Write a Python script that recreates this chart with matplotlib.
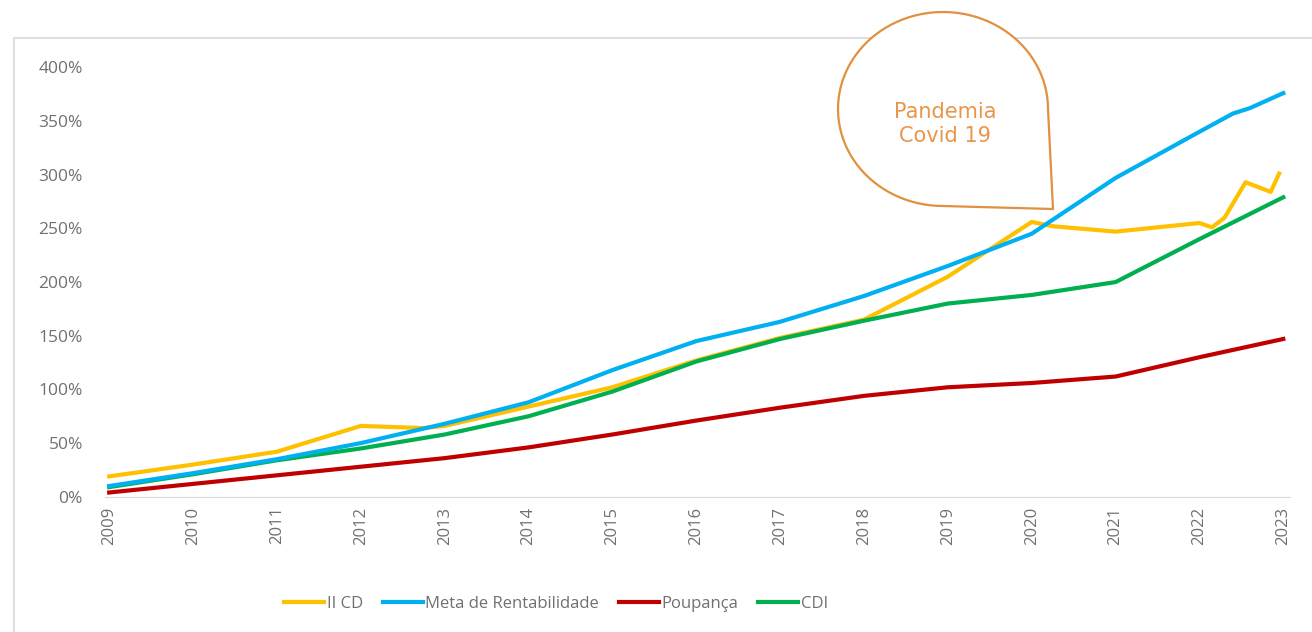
import numpy as np
import matplotlib
matplotlib.use("Agg")
import matplotlib.pyplot as plt
from matplotlib.path import Path
from matplotlib.patches import PathPatch, Rectangle
from matplotlib.ticker import FuncFormatter

plt.rcParams['font.family'] = ['Open Sans', 'DejaVu Sans']

# Data (cumulative return, %)
years = list(range(2009, 2024))

iicd_x = [2009, 2010, 2011, 2012, 2012.75, 2013, 2014, 2015, 2016, 2017, 2018, 2019,
          2020, 2020.25, 2021, 2022, 2022.15, 2022.3, 2022.55, 2022.85, 2022.95]
iicd_y = [19, 30, 42, 66, 64, 66, 84, 102, 127, 148, 165, 205,
          256, 252, 247, 255, 251, 260, 293, 284, 301]

meta_x = years[:-1] + [2022.4, 2022.6, 2023]
meta_y = [10, 22, 35, 50, 68, 88, 118, 145, 163, 187, 215, 245, 297, 340, 357, 362, 376]

poup_y = [4, 12, 20, 28, 36, 46, 58, 71, 83, 94, 102, 106, 112, 130, 147]
cdi_y = [9, 21, 34, 45, 58, 75, 98, 126, 147, 164, 180, 188, 200, 240, 279]

labels = ['II CD', 'Meta de Rentabilidade', 'Poupança', 'CDI']
colors = ['#FFC000', '#00B0F0', '#C00000', '#00B050']

W, H = 1312, 632
fig = plt.figure(figsize=(W / 100, H / 100), dpi=100)

# outer frame
fig.patches.append(Rectangle((14 / W, -0.1), 1.2, 1 - 38 / H + 0.1, transform=fig.transFigure,
                             fill=False, edgecolor='#D9D9D9', linewidth=1.2))

ax = fig.add_axes([105 / W, 1 - 500 / H, (1290 - 105) / W, (500 - 62) / H])
ax.plot(iicd_x, iicd_y, color=colors[0], lw=3, label=labels[0], zorder=3)
ax.plot(meta_x, meta_y, color=colors[1], lw=3, label=labels[1], zorder=4)
ax.plot(years, poup_y, color=colors[2], lw=3, label=labels[2], zorder=3)
ax.plot(years, cdi_y, color=colors[3], lw=3, label=labels[3], zorder=3)

for s in ['top', 'right', 'left']:
    ax.spines[s].set_visible(False)
ax.spines['bottom'].set_color('#D9D9D9')
ax.spines['bottom'].set_position(('data', 0))

ax.set_xlim(2008.95, 2023.08)
ax.set_ylim(-3, 405)
ax.set_xticks(years)
ax.set_xticklabels([str(y) for y in years])
ax.set_yticks(range(0, 401, 50))
ax.yaxis.set_major_formatter(FuncFormatter(lambda v, p: f'{v:.0f}%'))
ax.tick_params(axis='y', length=0, labelcolor='#707070', labelsize=12.5, pad=16)
ax.tick_params(axis='x', length=0, pad=7, labelrotation=90, labelcolor='#707070', labelsize=12)

leg = fig.legend(loc='center', bbox_to_anchor=(556 / W, 1 - 604 / H), ncol=4, frameon=False,
                 fontsize=12, handlelength=2.4, handletextpad=0.15, columnspacing=1.2)
for t in leg.get_texts():
    t.set_color('#707070')

# callout balloon, drawn in pixel coordinates
ov = fig.add_axes([0, 0, 1, 1], zorder=10)
ov.set_xlim(0, W)
ov.set_ylim(H, 0)
ov.axis('off')
cx, cy, rx, ry = 943, 109, 105, 97
# from bottom point round the left and top to the right side, then the sharp corner
th = np.linspace(np.pi / 2, 2 * np.pi, 80)
arc = np.column_stack([cx + rx * np.cos(th), cy + ry * np.sin(th)])
pts = np.vstack([arc, [[cx + rx + 5, cy + ry + 3]], [arc[0]]])
ov.add_patch(PathPatch(Path(pts), facecolor='white', edgecolor='#E0903F', lw=1.6))
ov.text(cx + 2, cy + 15, 'Pandemia\nCovid 19', ha='center', va='center', color='#E8964A',
        fontsize=15, family=['DejaVu Sans'], linespacing=1.25)

fig.savefig('out.png', dpi=100)
